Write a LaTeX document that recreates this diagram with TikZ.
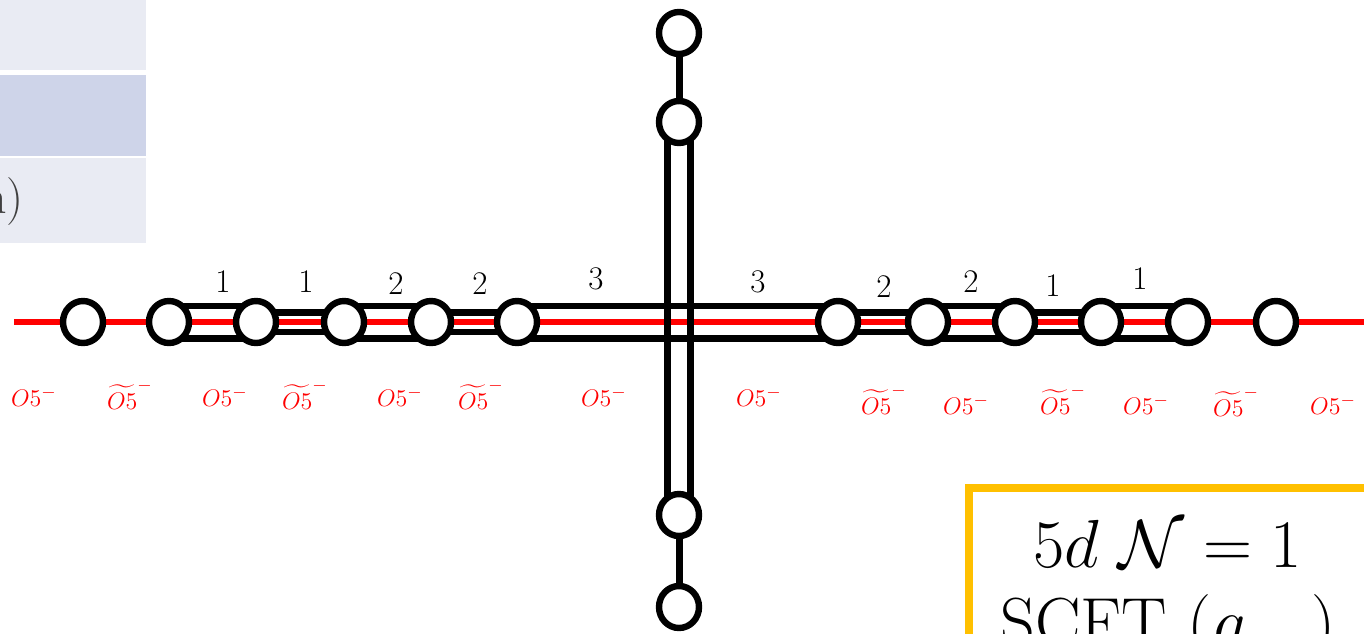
\documentclass[tikz,border=0pt]{standalone}
\usepackage{amsmath}
\usepackage{amssymb}
\usepackage{xcolor}
\usepackage{tikz}
\usetikzlibrary{shapes.geometric, backgrounds}

\definecolor{rowlight}{RGB}{233,235,243}
\definecolor{rowdark}{RGB}{206,212,233}
\definecolor{boxyellow}{RGB}{255,192,0}

\begin{document}
\begin{tikzpicture}[x=0.5pt, y=-0.5pt,
	brane/.style={draw, line width=3.2pt, shape=ellipse, fill=white, inner sep=0pt, minimum width=20pt, minimum height=21pt},
	stack/.style={line width=3.3pt},
	oplane/.style={red, line width=3pt},
	rank/.style={font=\fontsize{16.5}{18}\selectfont, anchor=base, inner sep=1pt},
	otype/.style={red, font=\fontsize{12.5}{14}\selectfont, anchor=base, inner sep=0.5pt}]
	\useasboundingbox (0,0) rectangle (1364,633);
	\clip (0,0) rectangle (1364,633);
	% Table and box at the edges:
	\fill[rowlight] (0,0) rectangle (146,70);
	\fill[rowdark] (0,75) rectangle (146,156);
	\fill[rowlight] (0,158) rectangle (146,243);
	\node[text=black!75, font=\fontsize{24}{28}\selectfont, anchor=base east] (tabtext) at (31,213) {n)};
	\draw[boxyellow, line width=4pt, fill=white] (969,487.5) rectangle (1500,800);
	\node[align=center, font=\fontsize{24.88}{28.2}\selectfont, scale=1.3666, anchor=base] (title) at (1168,645) {$5d\;\mathcal{N}=1$\\SCFT $(g_{\phantom{nn}})$};
	% Branes:
	\node[brane] (h1) at (83,322){};
	\node[brane] (h2) at (169,322){};
	\node[brane] (h3) at (256,322){};
	\node[brane] (h4) at (344,322){};
	\node[brane] (h5) at (431,322){};
	\node[brane] (h6) at (517,322){};
	\node[brane] (h7) at (838,322){};
	\node[brane] (h8) at (928,322){};
	\node[brane] (h9) at (1015,322){};
	\node[brane] (h10) at (1101,322){};
	\node[brane] (h11) at (1188,322){};
	\node[brane] (h12) at (1276,322){};
	\node[brane] (v1) at (679,33){};
	\node[brane] (v2) at (679,122){};
	\node[brane] (v3) at (679,515){};
	\node[brane] (v4) at (679,607){};
	% Paths:
	\begin{pgfonlayer}{background}
		\coordinate (redL) at (14,322);
		\coordinate (redR) at (1364,322);
		\draw[oplane] (redL) -- (redR);
		\draw[stack] ([yshift=8.1pt]h2.center) -- ([yshift=8.1pt]h3.center) ([yshift=-8.1pt]h2.center) -- ([yshift=-8.1pt]h3.center);
		\draw[stack] ([yshift=4.9pt]h3.center) -- ([yshift=4.9pt]h4.center) ([yshift=-4.9pt]h3.center) -- ([yshift=-4.9pt]h4.center);
		\draw[stack] ([yshift=8.1pt]h4.center) -- ([yshift=8.1pt]h5.center) ([yshift=-8.1pt]h4.center) -- ([yshift=-8.1pt]h5.center);
		\draw[stack] ([yshift=4.9pt]h5.center) -- ([yshift=4.9pt]h6.center) ([yshift=-4.9pt]h5.center) -- ([yshift=-4.9pt]h6.center);
		\draw[stack] ([yshift=8.1pt]h6.center) -- ([yshift=8.1pt]h7.center) ([yshift=-8.1pt]h6.center) -- ([yshift=-8.1pt]h7.center);
		\draw[stack] ([yshift=4.9pt]h7.center) -- ([yshift=4.9pt]h8.center) ([yshift=-4.9pt]h7.center) -- ([yshift=-4.9pt]h8.center);
		\draw[stack] ([yshift=8.1pt]h8.center) -- ([yshift=8.1pt]h9.center) ([yshift=-8.1pt]h8.center) -- ([yshift=-8.1pt]h9.center);
		\draw[stack] ([yshift=4.9pt]h9.center) -- ([yshift=4.9pt]h10.center) ([yshift=-4.9pt]h9.center) -- ([yshift=-4.9pt]h10.center);
		\draw[stack] ([yshift=8.1pt]h10.center) -- ([yshift=8.1pt]h11.center) ([yshift=-8.1pt]h10.center) -- ([yshift=-8.1pt]h11.center);
		\draw[stack, line width=3.5pt] (v1) -- (v2) (v3) -- (v4);
		\draw[stack, line width=3.5pt] ([xshift=-5.75pt]v2.center) -- ([xshift=-5.75pt]v3.center) ([xshift=5.75pt]v2.center) -- ([xshift=5.75pt]v3.center);
	\end{pgfonlayer}
	% Labels:
	\node[rank] (n1) at (223,292){1};
	\node[rank] (n2) at (306,292){1};
	\node[rank] (n3) at (396,294){2};
	\node[rank] (n4) at (480,294){2};
	\node[rank] (n5) at (596,289){3};
	\node[rank] (n6) at (758,292){3};
	\node[rank] (n7) at (884,297){2};
	\node[rank] (n8) at (971,292){2};
	\node[rank] (n9) at (1053,296){1};
	\node[rank] (n10) at (1140,289){1};
	\node[otype] (o1) at (34,406){$O5^-$};
	\node[otype] (o2) at (130,409){$\widetilde{O5}^-$};
	\node[otype] (o3) at (225,406){$O5^-$};
	\node[otype] (o4) at (305,409){$\widetilde{O5}^-$};
	\node[otype] (o5) at (400,406){$O5^-$};
	\node[otype] (o6) at (481,409){$\widetilde{O5}^-$};
	\node[otype] (o7) at (604,406){$O5^-$};
	\node[otype] (o8) at (759,406){$O5^-$};
	\node[otype] (o9) at (884,414){$\widetilde{O5}^-$};
	\node[otype] (o10) at (966,414){$O5^-$};
	\node[otype] (o11) at (1063,414){$\widetilde{O5}^-$};
	\node[otype] (o12) at (1146,414){$O5^-$};
	\node[otype] (o13) at (1236,416){$\widetilde{O5}^-$};
	\node[otype] (o14) at (1333,414){$O5^-$};
\end{tikzpicture}
\end{document}
